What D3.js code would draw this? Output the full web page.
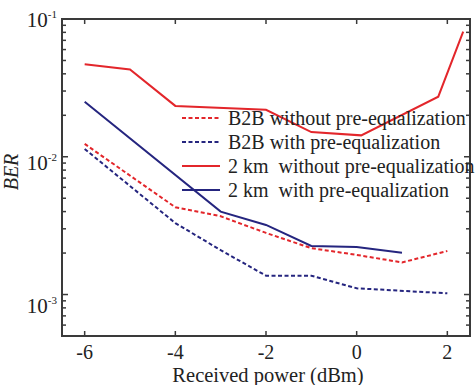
<!DOCTYPE html>
<html>
<head>
<meta charset="utf-8">
<script src="https://cdn.jsdelivr.net/npm/d3@7"></script>
<style>
  body { margin: 0; background: #fff; }
  svg { display: block; font-family: "Liberation Serif", "Times New Roman", serif; }
</style>
</head>
<body>
<div id="chart"></div>
<script>
(function(){
  // series values (x = received power dBm, y = BER)
  const b2bNoEqX = [-6, -4, -3, -2, -1, 0, 1, 2];
  const b2bNoEqY = [0.0124, 0.0043, 0.0037, 0.0028, 0.00217, 0.00194, 0.00171, 0.00207];

  const b2bEqX = [-6, -4, -3, -2, -1, 0, 2];
  const b2bEqY = [0.0114, 0.0033, 0.0021, 0.00137, 0.00137, 0.00111, 0.00102];

  const km2NoEqX = [-6, -5, -4, -2, -1, 0.1, 1.8, 2.35];
  const km2NoEqY = [0.047, 0.043, 0.0234, 0.0219, 0.0151, 0.0143, 0.0273, 0.081];

  const km2EqX = [-6, -3, -2, -1, 0, 1];
  const km2EqY = [0.0251, 0.0040, 0.0032, 0.00225, 0.00221, 0.00201];

  const xTicks = [-6, -4, -2, 0, 2];
  const yMajor = [-3, -2, -1];

  const series = [
    { name: "B2B without pre-equalization", xs: b2bNoEqX, ys: b2bNoEqY, color: "#e3262b", dash: "4,2.5" },
    { name: "B2B with pre-equalization", xs: b2bEqX, ys: b2bEqY, color: "#25257f", dash: "4,2.5" },
    { name: "2 km  without pre-equalization", xs: km2NoEqX, ys: km2NoEqY, color: "#e3262b", dash: null },
    { name: "2 km  with pre-equalization", xs: km2EqX, ys: km2EqY, color: "#25257f", dash: null }
  ];

  const W = 475, H = 385;
  const left = 62, right = 470, top = 19, bottom = 336;
  const axisColor = "#3a3a3a";

  const svg = d3.select("#chart").append("svg")
    .attr("width", W).attr("height", H);

  const x = d3.scaleLinear().domain([-6.5, 2.5]).range([left, right]);
  const y = d3.scaleLog().domain([5e-4, 0.1]).range([bottom, top]);

  // lines
  const line = d3.line().x(d => x(d[0])).y(d => y(d[1]));
  series.forEach(s => {
    svg.append("path")
      .datum(s.xs.map((v, i) => [v, s.ys[i]]))
      .attr("d", line)
      .attr("fill", "none")
      .attr("stroke", s.color)
      .attr("stroke-width", 2)
      .attr("stroke-dasharray", s.dash);
  });

  // frame
  svg.append("rect")
    .attr("x", left).attr("y", top)
    .attr("width", right - left).attr("height", bottom - top)
    .attr("fill", "none")
    .attr("stroke", axisColor)
    .attr("stroke-width", 2);

  // x ticks, inward on bottom and top
  xTicks.forEach(t => {
    svg.append("line").attr("x1", x(t)).attr("x2", x(t))
      .attr("y1", bottom).attr("y2", bottom - 5)
      .attr("stroke", axisColor).attr("stroke-width", 1.5);
    svg.append("line").attr("x1", x(t)).attr("x2", x(t))
      .attr("y1", top).attr("y2", top + 5)
      .attr("stroke", axisColor).attr("stroke-width", 1.5);
    svg.append("text")
      .attr("x", x(t)).attr("y", 359)
      .attr("text-anchor", "middle")
      .attr("font-size", 20)
      .attr("fill", "#222")
      .text(t);
  });

  // y ticks (log minor + major), inward on left and right
  y.ticks().forEach(v => {
    const major = Math.abs(Math.log10(v) - Math.round(Math.log10(v))) < 1e-6;
    const len = major ? 6 : 4;
    svg.append("line").attr("x1", left).attr("x2", left + len)
      .attr("y1", y(v)).attr("y2", y(v))
      .attr("stroke", axisColor).attr("stroke-width", 1.5);
    svg.append("line").attr("x1", right).attr("x2", right - len)
      .attr("y1", y(v)).attr("y2", y(v))
      .attr("stroke", axisColor).attr("stroke-width", 1.5);
  });

  yMajor.forEach(p => {
    // labels sit a little lower further down the axis, as in the original
    const t = svg.append("text")
      .attr("x", 57).attr("y", y(Math.pow(10, p)) + 8 + (-1 - p) * 5)
      .attr("text-anchor", "end")
      .attr("font-size", 21)
      .attr("fill", "#222");
    t.append("tspan").text("10");
    t.append("tspan").attr("dy", -9).attr("font-size", 11).text("-" + Math.abs(p));
  });

  // axis titles
  svg.append("text")
    .attr("x", (left + right) / 2 + 2).attr("y", 382)
    .attr("text-anchor", "middle")
    .attr("font-size", 20.5)
    .attr("fill", "#222")
    .text("Received power (dBm)");

  svg.append("text")
    .attr("transform", "translate(18,172) rotate(-90)")
    .attr("text-anchor", "middle")
    .attr("font-size", 20)
    .attr("font-style", "italic")
    .attr("fill", "#222")
    .text("BER");

  // legend
  const legend = svg.append("g").attr("transform", "translate(182,118)");
  series.forEach((s, i) => {
    const g = legend.append("g").attr("transform", `translate(0,${i * 24})`);
    g.append("line")
      .attr("x1", 0).attr("x2", 38).attr("y1", 0).attr("y2", 0)
      .attr("stroke", s.color).attr("stroke-width", 2)
      .attr("stroke-dasharray", s.dash);
    g.append("text")
      .attr("x", 46).attr("y", 7)
      .attr("font-size", 20)
      .attr("fill", "#222")
      .style("white-space", "pre")
      .attr("xml:space", "preserve")
      .text(s.name);
  });
})();
</script>
</body>
</html>
